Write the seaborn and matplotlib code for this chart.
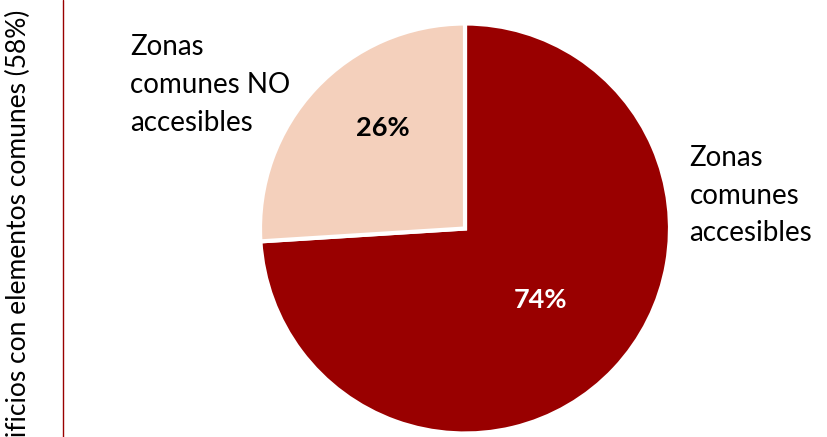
import matplotlib
matplotlib.use("Agg")
import matplotlib.pyplot as plt
import seaborn as sns
from matplotlib.lines import Line2D

# Data
categories = ["Zonas\ncomunes\naccesibles", "Zonas\ncomunes NO\naccesibles"]
shares = [74, 26]
colors = ["#990000", "#F4D0BC"]
side_title = "Edificios con elementos comunes (58%)"

sns.set_theme(style="white")
plt.rcParams["font.family"] = ["Lato", "DejaVu Sans"]

fig = plt.figure(figsize=(8.27, 4.37), dpi=100)
W, H = 827, 437
cx, cy, r = 465, 208.5, 205  # pie centre (pixels from bottom) and radius
ax = fig.add_axes([(cx - r) / W, (cy - r) / H, 2 * r / W, 2 * r / H])

wedges, texts, autotexts = ax.pie(
    shares, labels=categories, colors=colors, startangle=90, counterclock=False,
    autopct="%d%%", wedgeprops=dict(edgecolor="white", linewidth=3),
    textprops=dict(fontsize=20, color="black"))
ax.set_xlim(-1, 1)
ax.set_ylim(-1, 1)

# percent labels
pct_pos = [(0.37, -0.35), (-0.40, 0.49)]
pct_col = ["white", "black"]
for t, p, c in zip(autotexts, pct_pos, pct_col):
    t.set_position(p)
    t.set_color(c)
    t.set_fontweight("bold")
    t.set_fontsize(19.5)

# category labels
lab_pos = [(1.095, 0.16), (-1.635, 0.70)]
for t, p in zip(texts, lab_pos):
    t.set_position(p)
    t.set_ha("left")
    t.set_va("center")
    t.set_linespacing(1.55)
    t.set_clip_on(False)

# vertical side title (cut off at the bottom like the source)
fig.text(18 / W, 1 - 10 / H, side_title, rotation=90, ha="center", va="top",
         fontsize=19, color="black")
fig.add_artist(Line2D([63.5 / W, 63.5 / W], [0, 1], color="#990000", linewidth=1))

fig.savefig("out.png", dpi=100)
